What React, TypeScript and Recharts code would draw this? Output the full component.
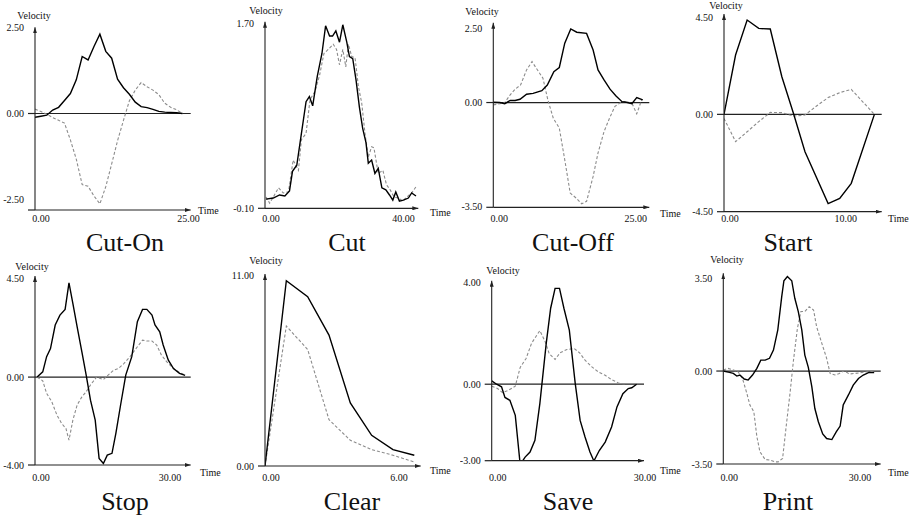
import React from 'react';
import { LineChart, Line, XAxis, YAxis, ReferenceLine } from 'recharts';

type Pt = [number, number];

// ---------- data (time, velocity) ----------
const cutOnSolid: Pt[] = [[0,-0.11],[1,-0.08],[2,-0.05],[3,0.1],[4,0.18],[5,0.38],[6,0.58],[7,0.98],[8,1.66],[9,1.56],[10,1.95],[11,2.31],[12,1.81],[13,1.61],[14,1.0],[15,0.75],[16,0.56],[17,0.33],[18,0.2],[19,0.17],[20,0.12],[21,0.06],[22,0.04],[23,0.03],[24,0.02],[25,0]];
const cutOnDashed: Pt[] = [[0,0.13],[1,0.06],[2,-0.02],[3,-0.12],[4,-0.2],[5,-0.28],[6,-0.77],[7,-1.33],[8,-2.07],[9,-2.12],[10,-2.4],[11,-2.63],[12,-2.13],[13,-1.47],[14,-0.79],[15,-0.2],[16,0.37],[17,0.68],[18,0.9],[19,0.78],[20,0.68],[21,0.55],[22,0.3],[23,0.18],[24,0.11],[25,0]];

const cutSolid: Pt[] = [[0.3,-0.01],[2.5,0.0],[4.4,0.03],[6.0,0.02],[7.4,0.07],[8.3,0.26],[9.6,0.32],[11.0,0.63],[12.4,0.94],[13.4,0.99],[14.4,0.9],[15.8,1.19],[17.2,1.41],[18.3,1.68],[19.5,1.58],[20.4,1.58],[21.4,1.63],[22.5,1.52],[23.5,1.69],[24.7,1.52],[25.5,1.38],[26.5,1.36],[27.5,1.15],[28.5,0.89],[29.5,0.68],[30.5,0.54],[31.2,0.34],[32.2,0.37],[33.2,0.24],[34.2,0.29],[35.3,0.1],[36.5,0.08],[37.6,0.03],[38.6,-0.02],[39.5,0.06],[40.6,-0.03],[41.8,-0.02],[43.3,0.0],[44.3,0.05],[45.6,0.02]];
const cutDashed: Pt[] = [[0.3,0.01],[1.4,-0.05],[2.5,0.01],[4.1,0.1],[5.5,0.05],[7.1,0.06],[8.5,0.37],[10.1,0.27],[11.0,0.57],[12.4,0.63],[13.6,0.96],[15.1,1.04],[16.5,1.2],[17.8,1.41],[19.1,1.45],[20.6,1.5],[21.6,1.45],[22.5,1.3],[23.5,1.45],[24.4,1.28],[25.2,1.5],[26.2,1.38],[27.2,1.37],[28.2,1.09],[29.2,0.93],[30.2,0.63],[31.2,0.4],[32.2,0.5],[32.9,0.49],[34.2,0.24],[35.6,0.27],[36.7,0.13],[37.8,0.08],[39.0,0.01],[40.3,0.0],[41.6,-0.03],[42.8,0.01],[44.3,0.05],[45.6,0.11]];

const cutOffSolid: Pt[] = [[0,0.01],[1.2,0],[2.1,-0.04],[3.1,0.07],[4.0,0.07],[4.9,0.11],[6.1,0.28],[7.3,0.31],[8.9,0.4],[9.9,0.59],[11.1,1.04],[12.1,1.18],[13.1,2.0],[14.2,2.48],[15.3,2.37],[17.1,2.33],[18.3,1.77],[19.2,1.1],[20.3,0.76],[21.4,0.45],[22.5,0.22],[23.6,0.03],[24.4,0.01],[25.4,-0.04],[26.3,0.17],[27.4,0.09]];
const cutOffDashed: Pt[] = [[0,-0.08],[1.2,-0.04],[2.1,0],[3.1,0.26],[4.0,0.45],[5.0,0.59],[6.1,1.1],[7.1,1.38],[7.9,1.15],[9.1,0.82],[10.0,0.09],[11.0,-0.53],[12.1,-0.86],[13.1,-1.93],[14.1,-3.05],[15.2,-3.22],[16.2,-3.41],[17.1,-3.33],[18.3,-2.49],[19.2,-1.7],[20.3,-0.98],[21.3,-0.53],[22.3,-0.13],[23.6,0.03],[24.4,0.03],[25.4,-0.02],[26.3,-0.38],[27.2,0.09]];

const startSolid: Pt[] = [[0,0],[1,2.76],[2,4.39],[3,4.0],[4,3.97],[5,1.75],[6,0.05],[7,-1.74],[9,-4.15],[10,-3.91],[11,-3.21],[13,0]];
const startDashed: Pt[] = [[0,-0.19],[1,-1.27],[2,-0.81],[3,-0.34],[4,0.09],[5,0.08],[6,-0.08],[7,-0.03],[8,0.39],[9,0.78],[10,1.01],[11,1.16],[13,0]];

const stopSolid: Pt[] = [[0.5,0],[1.8,0.24],[2.7,0.93],[3.6,1.3],[4.7,2.37],[5.8,2.82],[7.0,3.08],[7.9,4.29],[8.8,3.35],[9.8,2.29],[10.9,1.15],[11.9,0.09],[12.9,-1.05],[14.0,-1.96],[14.9,-3.7],[15.9,-3.93],[16.8,-3.55],[17.9,-3.47],[18.8,-2.56],[19.9,-1.27],[21.1,0.09],[22.5,0.93],[23.8,2.52],[25.0,3.08],[26.0,3.08],[27.2,2.82],[27.9,2.37],[29.0,2.06],[29.8,1.46],[31.0,0.77],[32.2,0.39],[33.6,0.17],[34.9,0.08]];
const stopDashed: Pt[] = [[0.5,0],[1.8,-0.17],[2.7,-0.74],[3.9,-1.12],[5.1,-1.73],[6.2,-2.11],[7.2,-2.34],[7.9,-2.87],[8.8,-1.96],[9.8,-1.27],[10.9,-0.9],[11.9,-0.67],[12.9,-0.36],[14.3,0],[15.9,-0.11],[17.0,0.09],[18.3,0.32],[19.4,0.39],[20.7,0.62],[22.1,0.93],[23.8,1.38],[25.0,1.68],[26.0,1.64],[27.2,1.64],[28.3,1.46],[29.4,1.0],[30.6,0.7],[32.2,0.39],[33.6,0.2],[34.9,0.09]];

const clearSolid: Pt[] = [[0,0],[1,10.67],[2,9.75],[3,7.54],[4,3.63],[5,1.77],[6,0.94],[7,0.62]];
const clearDashed: Pt[] = [[0,0],[1,8.06],[2,6.71],[3,2.67],[4,1.48],[5,0.94],[6,0.62],[7,0.23]];

const saveSolid: Pt[] = [[0,0.13],[1.0,0],[2.0,-0.1],[2.7,-0.52],[3.7,-0.63],[4.8,-1.22],[5.8,-3.15],[6.8,-2.86],[7.8,-2.66],[8.8,-2.2],[9.8,-0.76],[11.1,1.6],[12.0,2.98],[12.9,3.76],[13.8,3.76],[14.7,2.98],[15.8,2.12],[17.0,0.03],[18.0,-1.42],[19.0,-2.07],[20.0,-2.66],[20.8,-3.01],[21.9,-2.6],[23.1,-2.27],[24.4,-1.68],[25.5,-0.89],[26.7,-0.37],[27.8,-0.17],[28.5,-0.14],[29.5,0]];
const saveDashed: Pt[] = [[0,-0.08],[1.2,-0.17],[2.2,-0.33],[3.4,-0.24],[4.8,-0.08],[5.8,0.66],[7.0,1.01],[8.1,1.6],[9.2,1.93],[9.8,2.1],[10.9,1.66],[11.7,1.2],[12.9,0.97],[13.9,1.23],[15.3,1.36],[16.8,1.4],[17.9,1.23],[19.0,0.94],[20.4,0.68],[21.7,0.48],[23.1,0.35],[24.4,0.18],[25.8,0.05],[27.2,0]];

const printSolid: Pt[] = [[0,0],[1.4,-0.05],[2.3,-0.09],[3.1,-0.19],[3.8,-0.15],[4.8,-0.3],[5.7,-0.34],[6.7,-0.15],[7.7,0.1],[8.6,0.41],[9.6,0.41],[10.6,0.48],[11.5,0.79],[12.5,1.55],[13.4,2.8],[13.9,3.4],[14.7,3.56],[15.7,3.4],[16.4,2.74],[17.2,2.24],[18.0,1.55],[18.7,0.6],[19.5,0.14],[20.3,-0.59],[21.0,-1.41],[21.8,-1.91],[22.8,-2.37],[23.7,-2.54],[24.9,-2.58],[25.9,-2.29],[26.8,-2.07],[27.5,-1.28],[28.7,-0.9],[29.8,-0.53],[31.0,-0.28],[32.1,-0.15],[33.3,-0.06],[34.6,-0.06]];
const printDashed: Pt[] = [[0,0.04],[1.1,0.1],[2.3,0.04],[3.4,-0.03],[4.4,-0.28],[5.4,-0.84],[6.1,-1.28],[7.0,-1.53],[7.7,-2.47],[8.4,-3.04],[9.6,-3.33],[10.7,-3.35],[11.9,-3.42],[12.6,-3.42],[13.6,-3.29],[14.5,-1.97],[15.3,-0.84],[16.1,0.41],[17.0,1.61],[17.8,2.24],[18.7,2.24],[19.7,2.42],[20.7,2.3],[21.4,1.67],[22.6,1.04],[23.7,0.48],[24.5,-0.09],[25.6,-0.15],[26.6,-0.09],[27.7,0.01],[28.9,-0.11],[30.2,-0.09],[31.5,-0.06],[32.9,-0.03],[34.6,0]];

// ---------- tick labels ----------
const cutOnYLabels = [2.5, 0, -2.5];
const cutYLabels = [1.7, -0.1];
const cutOffYLabels = [2.5, 0, -3.5];
const startYLabels = [4.5, 0, -4.5];
const stopYLabels = [4.5, 0, -4];
const clearYLabels = [11, 0];
const saveYLabels = [4, 0, -3];
const printYLabels = [3.5, 0, -3.5];

const cutOnXTicks = [0, 25];
const cutXTicks = [0, 40];
const cutOffXTicks = [0, 25];
const startXTicks = [0, 10];
const stopXTicks = [0, 30];
const clearXTicks = [0, 6];
const saveXTicks = [0, 30];
const printXTicks = [0, 30];

const titles = ['Cut-On', 'Cut', 'Cut-Off', 'Start', 'Stop', 'Clear', 'Save', 'Print'];

// ---------- layout / style ----------
const CELL_W = 230;
const CELL_H = 260;
const Y_AXIS_W = 28;
const X_AXIS_H = 30;
const FONT = '"Liberation Serif", "Times New Roman", serif';
const AXIS = '#222';
const TEXT = '#111';

interface Box { l: number; r: number; t: number; b: number; }
interface Panel {
  title: string;
  solid: Pt[];
  dashed: Pt[];
  xDomain: [number, number];
  yDomain: [number, number];
  xTicks: number[];
  yLabels: number[];
  zeroLine: boolean;
  col: number;
  row: number;
  box: Box;
  velocity: [number, number];
  time: [number, number];
  titleX: number;
}

const panels: Panel[] = [
  { title: titles[0], solid: cutOnSolid, dashed: cutOnDashed, xDomain: [0, 26.4], yDomain: [-2.81, 2.51], xTicks: cutOnXTicks, yLabels: cutOnYLabels, zeroLine: true, col: 0, row: 0, box: { l: 35, r: 190.7, t: 27.3, b: 210 }, velocity: [34, 15], time: [198, 210], titleX: 125 },
  { title: titles[1], solid: cutSolid, dashed: cutDashed, xDomain: [0, 46.3], yDomain: [-0.1, 1.72], xTicks: cutXTicks, yLabels: cutYLabels, zeroLine: false, col: 1, row: 0, box: { l: 265, r: 418.3, t: 21.7, b: 208.3 }, velocity: [266, 10], time: [430, 212], titleX: 347 },
  { title: titles[2], solid: cutOffSolid, dashed: cutOffDashed, xDomain: [0, 28.6], yDomain: [-3.53, 2.69], xTicks: cutOffXTicks, yLabels: cutOffYLabels, zeroLine: true, col: 2, row: 0, box: { l: 493.3, r: 649.3, t: 22.7, b: 207.3 }, velocity: [482, 11], time: [660, 213], titleX: 573 },
  { title: titles[3], solid: startSolid, dashed: startDashed, xDomain: [0, 13.63], yDomain: [-4.53, 4.67], xTicks: startXTicks, yLabels: startYLabels, zeroLine: true, col: 3, row: 0, box: { l: 724, r: 881.7, t: 14, b: 211.7 }, velocity: [726, 5], time: [888, 218], titleX: 788 },
  { title: titles[4], solid: stopSolid, dashed: stopDashed, xDomain: [0, 36.2], yDomain: [-4.0, 4.6], xTicks: stopXTicks, yLabels: stopYLabels, zeroLine: true, col: 0, row: 1, box: { l: 35, r: 190.7, t: 276, b: 465 }, velocity: [32, 266], time: [200, 472], titleX: 125 },
  { title: titles[5], solid: clearSolid, dashed: clearDashed, xDomain: [0, 7.3], yDomain: [0, 11.06], xTicks: clearXTicks, yLabels: clearYLabels, zeroLine: false, col: 1, row: 1, box: { l: 265, r: 420.7, t: 274, b: 466 }, velocity: [266, 260], time: [430, 470], titleX: 352 },
  { title: titles[6], solid: saveSolid, dashed: saveDashed, xDomain: [0, 31.0], yDomain: [-3.0, 4.06], xTicks: saveXTicks, yLabels: saveYLabels, zeroLine: true, col: 2, row: 1, box: { l: 491.7, r: 644, t: 280.7, b: 460.7 }, velocity: [503, 270], time: [660, 470], titleX: 568 },
  { title: titles[7], solid: printSolid, dashed: printDashed, xDomain: [0, 36.1], yDomain: [-3.5, 3.68], xTicks: printXTicks, yLabels: printYLabels, zeroLine: true, col: 3, row: 1, box: { l: 723.3, r: 880.7, t: 273.3, b: 464 }, velocity: [727, 259], time: [888, 472], titleX: 788 },
];

const ROW_XLABEL_Y = [221.5, 480.5];
const ROW_TITLE_Y = [251, 510];

const toRows = (pts: Pt[]) => pts.map(([t, v]) => ({ t, v }));

function renderYTick(props: any, p: Panel) {
  const { x, y, payload } = props;
  const v = payload.value as number;
  const hasLabel = p.yLabels.includes(v);
  const hasLine = v === p.yDomain[0] || v === 0;
  return (
    <g>
      {hasLine && <line x1={x - 7} x2={x} y1={y} y2={y} stroke={AXIS} strokeWidth={1.2} />}
      {hasLabel && (
        <text x={x - 11} y={y + 3.5} textAnchor="end" fontFamily={FONT} fontSize={10} fill={TEXT}>
          {v.toFixed(2)}
        </text>
      )}
    </g>
  );
}

function renderXTick(props: any, p: Panel) {
  const { x, payload } = props;
  const cellTop = p.row * CELL_H;
  return (
    <text x={x + 6} y={ROW_XLABEL_Y[p.row] - cellTop} textAnchor="middle" fontFamily={FONT} fontSize={10} fill={TEXT}>
      {(payload.value as number).toFixed(2)}
    </text>
  );
}

function PanelChart({ p }: { p: Panel }) {
  const cellLeft = p.col * CELL_W;
  const cellTop = p.row * CELL_H;
  const margin = {
    top: p.box.t - cellTop,
    left: p.box.l - cellLeft - Y_AXIS_W,
    right: cellLeft + CELL_W - p.box.r,
    bottom: cellTop + CELL_H - p.box.b - X_AXIS_H,
  };
  const yTicks = Array.from(new Set([p.yDomain[0], ...p.yLabels]));
  return (
    <div style={{ position: 'absolute', left: cellLeft, top: cellTop, width: CELL_W, height: CELL_H }}>
      <LineChart width={CELL_W} height={CELL_H} margin={margin}>
        <XAxis
          type="number"
          dataKey="t"
          domain={p.xDomain}
          allowDataOverflow
          ticks={p.xTicks}
          interval={0}
          height={X_AXIS_H}
          tickSize={0}
          tickMargin={0}
          tickLine={false}
          stroke={AXIS}
          axisLine={{ stroke: AXIS, strokeWidth: 1.2, markerEnd: 'url(#arrowhead)' } as any}
          tick={(props: any) => renderXTick(props, p)}
        />
        <YAxis
          type="number"
          dataKey="v"
          domain={p.yDomain}
          allowDataOverflow
          ticks={yTicks}
          interval={0}
          width={Y_AXIS_W}
          tickSize={0}
          tickMargin={0}
          tickLine={false}
          stroke={AXIS}
          axisLine={{ stroke: AXIS, strokeWidth: 1.1, markerStart: 'url(#arrowhead)' } as any}
          tick={(props: any) => renderYTick(props, p)}
        />
        {p.zeroLine && <ReferenceLine y={0} stroke={AXIS} strokeWidth={1.2} />}
        <Line
          data={toRows(p.dashed)}
          dataKey="v"
          type="linear"
          stroke="#8c8c8c"
          strokeWidth={1.1}
          strokeDasharray="3 2"
          dot={false}
          activeDot={false}
          isAnimationActive={false}
        />
        <Line
          data={toRows(p.solid)}
          dataKey="v"
          type="linear"
          stroke="#000"
          strokeWidth={1.4}
          dot={false}
          activeDot={false}
          isAnimationActive={false}
        />
      </LineChart>
    </div>
  );
}

export default function App() {
  return (
    <div style={{ position: 'absolute', left: 0, top: 0, width: 917, height: 521, background: '#fff', overflow: 'hidden' }}>
      <svg width={0} height={0} style={{ position: 'absolute' }}>
        <defs>
          <marker
            id="arrowhead"
            viewBox="0 0 6 4"
            refX={6}
            refY={2}
            markerWidth={6}
            markerHeight={4}
            markerUnits="userSpaceOnUse"
            orient="auto-start-reverse"
          >
            <path d="M0,0 L6,2 L0,4 z" fill={AXIS} />
          </marker>
        </defs>
      </svg>
      {panels.map((p) => (
        <PanelChart key={p.title} p={p} />
      ))}
      <svg width={917} height={521} style={{ position: 'absolute', left: 0, top: 0, pointerEvents: 'none' }}>
        {panels.map((p) => (
          <g key={p.title}>
            <text x={p.velocity[0]} y={p.velocity[1] + 3.5} textAnchor="middle" fontFamily={FONT} fontSize={10} fill={TEXT}>
              Velocity
            </text>
            <text x={p.time[0]} y={p.time[1] + 3.5} textAnchor="start" fontFamily={FONT} fontSize={10} fill={TEXT}>
              Time
            </text>
            <text x={p.titleX} y={ROW_TITLE_Y[p.row]} textAnchor="middle" fontFamily={FONT} fontSize={26} fill={TEXT}>
              {p.title}
            </text>
          </g>
        ))}
      </svg>
    </div>
  );
}
